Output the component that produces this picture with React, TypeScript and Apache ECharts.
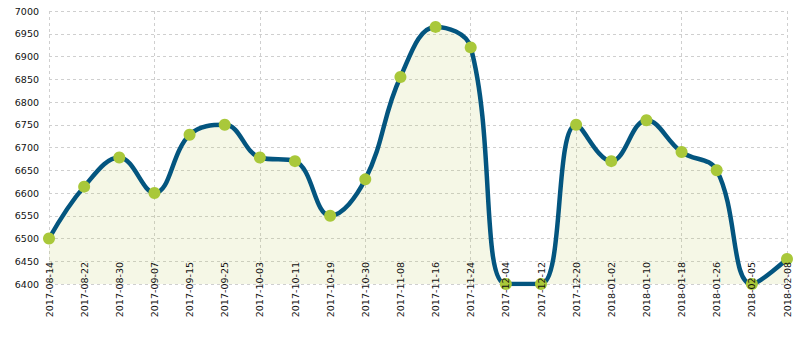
import React, { useEffect, useRef } from "react";
import * as echarts from "echarts";

const categories = [
  "2017-08-14", "2017-08-22", "2017-08-30", "2017-09-07", "2017-09-15", "2017-09-25",
  "2017-10-03", "2017-10-11", "2017-10-19", "2017-10-30", "2017-11-08", "2017-11-16",
  "2017-11-24", "2017-12-04", "2017-12-12", "2017-12-20", "2018-01-02", "2018-01-10",
  "2018-01-18", "2018-01-26", "2018-02-05", "2018-02-08",
];
const values = [
  6500, 6614, 6678, 6600, 6728, 6750,
  6678, 6670, 6550, 6630, 6855, 6965,
  6920, 6400, 6400, 6750, 6670, 6760,
  6690, 6650, 6400, 6455,
];
const yMin = 6400;
const yMax = 7000;
const yStep = 50;

export default function App() {
  const ref = useRef<HTMLDivElement>(null);
  useEffect(() => {
    if (!ref.current) return;
    const chart = echarts.init(ref.current, undefined, { renderer: "svg" });
    const font = "DejaVu Sans";
    const split = { show: true, lineStyle: { color: "#cfcfcf", type: [3, 3], width: 1 } };
    chart.setOption({
      animation: false,
      backgroundColor: "#ffffff",
      grid: {
        left: 49, right: 23, top: 11, bottom: 55,
        containLabel: false,
        outerBoundsMode: "none",
      },
      xAxis: [
        {
          type: "category",
          data: categories,
          position: "bottom",
          boundaryGap: false,
          axisLine: { show: false },
          axisTick: { show: false },
          axisLabel: { show: false },
          splitLine: split,
          z: 1,
        },
        {
          type: "category",
          data: categories,
          position: "bottom",
          offset: 0,
          boundaryGap: false,
          axisLine: { show: false },
          axisTick: { show: false },
          axisLabel: {
            rotate: 90,
            margin: -22,
            interval: 0,
            overflow: "none",
            hideOverlap: false,
            color: "#111",
            fontFamily: font,
            fontSize: 9.5,
          },
          splitLine: { show: false },
          z: 10,
        },
      ],
      yAxis: {
        type: "value",
        min: yMin,
        max: yMax,
        interval: yStep,
        axisLine: { show: false },
        axisTick: { show: false },
        axisLabel: {
          margin: 10,
          color: "#111",
          fontFamily: font,
          fontSize: 9.5,
          formatter: (v: number) => String(v),
        },
        splitLine: split,
        z: 1,
      },
      series: [
        {
          type: "line",
          xAxisIndex: 0,
          data: values,
          smooth: 0.4,
          symbol: "circle",
          symbolSize: 12,
          itemStyle: { color: "#a9c83a", borderWidth: 0 },
          lineStyle: { color: "#03557f", width: 4.5 },
          areaStyle: { color: "rgba(188,202,88,0.15)", opacity: 1 },
          z: 3,
        },
      ],
    });
    return () => chart.dispose();
  }, []);
  return (
    <div
      ref={ref}
      style={{ position: "fixed", left: 0, top: 0, width: 810, height: 339 }}
    />
  );
}
